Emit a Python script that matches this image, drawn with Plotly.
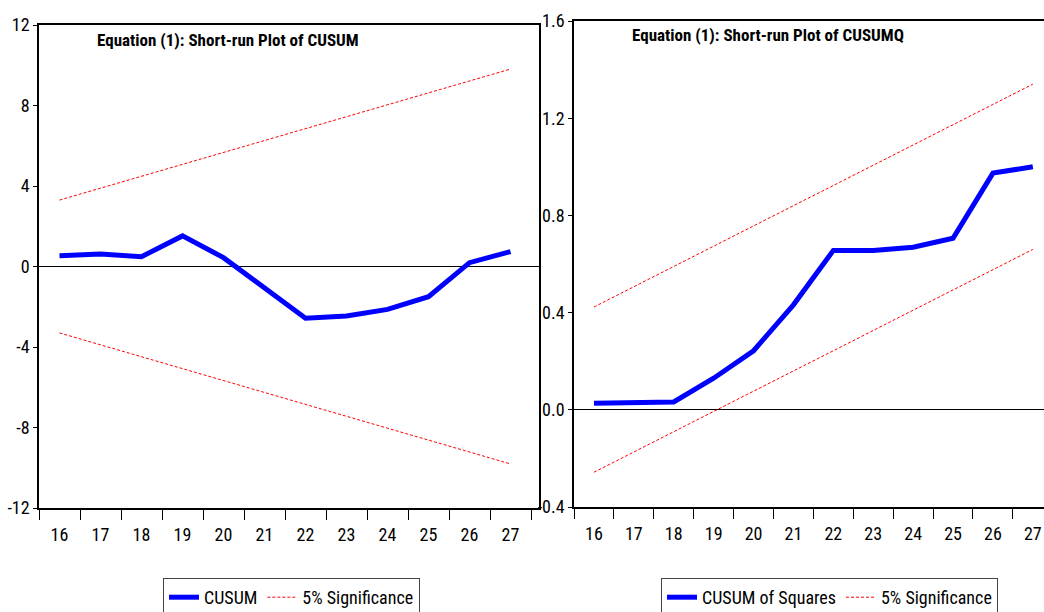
import plotly.graph_objects as go

periods = [16, 17, 18, 19, 20, 21, 22, 23, 24, 25, 26, 27]

cusum = [0.54, 0.62, 0.49, 1.52, 0.44, -1.05, -2.57, -2.46, -2.13, -1.50, 0.19, 0.74]
cusum_upper = [3.30, 3.89, 4.48, 5.08, 5.67, 6.26, 6.85, 7.44, 8.04, 8.63, 9.22, 9.81]
cusum_lower = [-3.30, -3.89, -4.48, -5.08, -5.67, -6.26, -6.85, -7.44, -8.04, -8.63, -9.22, -9.81]

cusumq = [0.027, 0.028, 0.032, 0.13, 0.243, 0.432, 0.656, 0.656, 0.669, 0.706, 0.974, 1.0]
cusumq_upper = [0.423, 0.507, 0.590, 0.673, 0.757, 0.840, 0.923, 1.007, 1.090, 1.173, 1.257, 1.340]
cusumq_lower = [-0.257, -0.173, -0.090, -0.007, 0.077, 0.160, 0.243, 0.327, 0.410, 0.493, 0.577, 0.660]

left_yticks = [-12, -8, -4, 0, 4, 8, 12]
right_yticks = [-0.4, 0.0, 0.4, 0.8, 1.2, 1.6]
right_yticklabels = ["-0.4", "0.0", "0.4", "0.8", "1.2", "1.6"]

FONT = "Roboto Condensed, Liberation Sans Narrow, Arial Narrow, sans-serif"
BLUE = "#0000FF"
RED = "#FF0000"

W, H = 1044, 612

fig = go.Figure()

fig.add_trace(go.Scatter(x=periods, y=cusum, mode="lines", name="CUSUM",
                         line=dict(color=BLUE, width=5), xaxis="x", yaxis="y", legend="legend"))
fig.add_trace(go.Scatter(x=periods, y=cusum_upper, mode="lines", name="5% Significance",
                         line=dict(color=RED, width=1, dash="3px,2px"), xaxis="x", yaxis="y", legend="legend"))
fig.add_trace(go.Scatter(x=periods, y=cusum_lower, mode="lines", name="5% Significance", showlegend=False,
                         line=dict(color=RED, width=1, dash="3px,2px"), xaxis="x", yaxis="y", legend="legend"))

fig.add_trace(go.Scatter(x=periods, y=cusumq, mode="lines", name="CUSUM of Squares",
                         line=dict(color=BLUE, width=5), xaxis="x2", yaxis="y2", legend="legend2"))
fig.add_trace(go.Scatter(x=periods, y=cusumq_upper, mode="lines", name="5% Significance",
                         line=dict(color=RED, width=1, dash="3px,2px"), xaxis="x2", yaxis="y2", legend="legend2"))
fig.add_trace(go.Scatter(x=periods, y=cusumq_lower, mode="lines", name="5% Significance", showlegend=False,
                         line=dict(color=RED, width=1, dash="3px,2px"), xaxis="x2", yaxis="y2", legend="legend2"))

tickfont = dict(family=FONT, size=18, color="black")

def xaxis_cfg(domain, rng, mirror):
    return dict(domain=domain, range=rng, tickmode="array", tickvals=periods,
                ticktext=[str(p) for p in periods], ticks="outside", ticklen=10,
                tickcolor="rgba(0,0,0,0)", showgrid=False, zeroline=False,
                showline=True, linecolor="black", linewidth=1.5, mirror=mirror,
                tickfont=tickfont, automargin=False,
                minor=dict(tick0=15.5, dtick=1, ticks="outside", ticklen=10,
                           tickcolor="black", tickwidth=1, showgrid=False))

def yaxis_cfg(domain, rng, vals, texts, mirror, anchor):
    return dict(domain=domain, range=rng, tickmode="array", tickvals=vals, ticktext=texts,
                ticks="outside", ticklen=4, tickcolor="black", showgrid=False,
                zeroline=True, zerolinecolor="black", zerolinewidth=1,
                showline=True, linecolor="black", linewidth=1.5, mirror=mirror,
                tickfont=tickfont, anchor=anchor, automargin=False)

fig.update_layout(
    width=W, height=H,
    margin=dict(l=0, r=0, t=0, b=0, autoexpand=False),
    paper_bgcolor="white", plot_bgcolor="white",
    font=dict(family=FONT, color="black"),
    xaxis=xaxis_cfg([39 / W, 539 / W], [15.5, 27.695], True),
    yaxis=yaxis_cfg([1 - 508 / H, 1 - 25 / H], [-12, 12], left_yticks,
                    [str(v) for v in left_yticks], True, "x"),
    xaxis2=dict(xaxis_cfg([574 / W, 1.0], [15.5, 27.28], True), anchor="y2"),
    yaxis2=yaxis_cfg([1 - 507 / H, 1 - 21 / H], [-0.4, 1.6], right_yticks,
                     right_yticklabels, False, "x2"),
    legend=dict(x=163 / W, y=1 - 578 / H, xanchor="left", yanchor="top",
                orientation="h", bordercolor="#444", borderwidth=1,
                font=dict(family=FONT, size=18, color="black"), bgcolor="white"),
    legend2=dict(x=661 / W, y=1 - 578 / H, xanchor="left", yanchor="top",
                 orientation="h", bordercolor="#444", borderwidth=1,
                 font=dict(family=FONT, size=18, color="black"), bgcolor="white"),
    annotations=[
        dict(text="<b>Equation (1): Short-run Plot of CUSUM</b>", x=228 / W, y=1 - 40 / H,
             xref="paper", yref="paper", showarrow=False, xanchor="center", yanchor="middle",
             font=dict(family=FONT, size=17, color="black")),
        dict(text="<b>Equation (1): Short-run Plot of CUSUMQ</b>", x=768 / W, y=1 - 35 / H,
             xref="paper", yref="paper", showarrow=False, xanchor="center", yanchor="middle",
             font=dict(family=FONT, size=17, color="black")),
    ],
)

fig.write_html("out.html", config={"displayModeBar": False},
               post_script="document.body.style.margin='0';")
